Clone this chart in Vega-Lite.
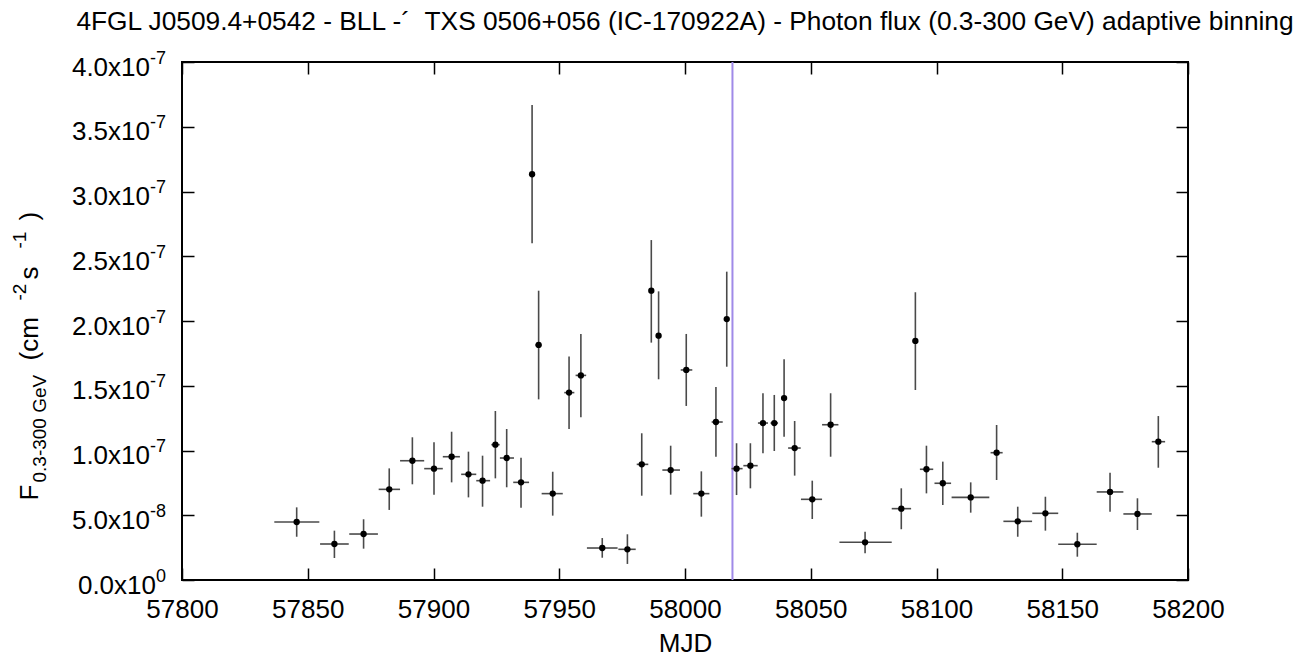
{
  "$schema": "https://vega.github.io/schema/vega-lite/v6.json",
  "width": 1006,
  "height": 518,
  "autosize": {"type": "none"},
  "padding": {"left": 182, "top": 62, "right": 118, "bottom": 78},
  "background": "white",
  "config": {
    "font": "Liberation Sans",
    "view": {"stroke": "black", "strokeWidth": 2},
    "axis": {"domain": false, "grid": false, "labelColor": "black", "titleColor": "black", "tickColor": "black", "tickWidth": 1.5, "labelFont": "Liberation Sans", "titleFont": "Liberation Sans", "titleFontWeight": "normal", "labelFlush": false, "labelOverlap": false, "labelBound": false}
  },
  "title": {"text": "4FGL J0509.4+0542 - BLL -´\u00a0\u00a0TXS 0506+056 (IC-170922A) - Photon flux (0.3-300 GeV) adaptive binning", "fontSize": 26.3, "fontWeight": "normal", "font": "Liberation Sans", "color": "black", "anchor": "middle", "frame": "group", "baseline": "alphabetic", "offset": 18, "dy": 25},
  "datasets": {
    "flux": [
      {"mjd":57845.6,"mjd_lo":57836.7,"mjd_hi":57854.6,"flux":4.48e-8,"flux_lo":3.34e-8,"flux_hi":5.61e-8},
      {"mjd":57860.6,"mjd_lo":57854.9,"mjd_hi":57866.3,"flux":2.78e-8,"flux_lo":1.70e-8,"flux_hi":3.81e-8},
      {"mjd":57872.2,"mjd_lo":57866.5,"mjd_hi":57877.9,"flux":3.55e-8,"flux_lo":2.42e-8,"flux_hi":4.69e-8},
      {"mjd":57882.4,"mjd_lo":57878.2,"mjd_hi":57886.7,"flux":7.00e-8,"flux_lo":5.41e-8,"flux_hi":8.62e-8},
      {"mjd":57891.6,"mjd_lo":57886.7,"mjd_hi":57896.3,"flux":9.21e-8,"flux_lo":7.39e-8,"flux_hi":1.102e-7},
      {"mjd":57900.2,"mjd_lo":57896.3,"mjd_hi":57903.7,"flux":8.60e-8,"flux_lo":6.59e-8,"flux_hi":1.063e-7},
      {"mjd":57907.2,"mjd_lo":57903.7,"mjd_hi":57910.5,"flux":9.52e-8,"flux_lo":7.54e-8,"flux_hi":1.145e-7},
      {"mjd":57913.9,"mjd_lo":57911.0,"mjd_hi":57917.0,"flux":8.16e-8,"flux_lo":6.38e-8,"flux_hi":9.91e-8},
      {"mjd":57919.5,"mjd_lo":57917.0,"mjd_hi":57922.5,"flux":7.67e-8,"flux_lo":5.66e-8,"flux_hi":9.60e-8},
      {"mjd":57924.6,"mjd_lo":57923.0,"mjd_hi":57926.3,"flux":1.045e-7,"flux_lo":7.85e-8,"flux_hi":1.305e-7},
      {"mjd":57929.1,"mjd_lo":57926.4,"mjd_hi":57932.0,"flux":9.42e-8,"flux_lo":7.16e-8,"flux_hi":1.166e-7},
      {"mjd":57934.8,"mjd_lo":57931.7,"mjd_hi":57938.0,"flux":7.54e-8,"flux_lo":5.58e-8,"flux_hi":9.44e-8},
      {"mjd":57939.2,"mjd_lo":57938.5,"mjd_hi":57940.0,"flux":3.133e-7,"flux_lo":2.600e-7,"flux_hi":3.668e-7},
      {"mjd":57941.8,"mjd_lo":57940.5,"mjd_hi":57943.0,"flux":1.815e-7,"flux_lo":1.395e-7,"flux_hi":2.234e-7},
      {"mjd":57947.4,"mjd_lo":57943.0,"mjd_hi":57951.4,"flux":6.67e-8,"flux_lo":4.97e-8,"flux_hi":8.36e-8},
      {"mjd":57953.9,"mjd_lo":57952.0,"mjd_hi":57956.0,"flux":1.447e-7,"flux_lo":1.166e-7,"flux_hi":1.725e-7},
      {"mjd":57958.6,"mjd_lo":57956.5,"mjd_hi":57960.7,"flux":1.580e-7,"flux_lo":1.256e-7,"flux_hi":1.900e-7},
      {"mjd":57967.1,"mjd_lo":57961.0,"mjd_hi":57973.2,"flux":2.47e-8,"flux_lo":1.72e-8,"flux_hi":3.24e-8},
      {"mjd":57977.1,"mjd_lo":57973.5,"mjd_hi":57980.4,"flux":2.37e-8,"flux_lo":1.24e-8,"flux_hi":3.53e-8},
      {"mjd":57982.8,"mjd_lo":57980.8,"mjd_hi":57985.4,"flux":8.93e-8,"flux_lo":6.51e-8,"flux_hi":1.133e-7},
      {"mjd":57986.6,"mjd_lo":57985.8,"mjd_hi":57987.4,"flux":2.234e-7,"flux_lo":1.833e-7,"flux_hi":2.625e-7},
      {"mjd":57989.5,"mjd_lo":57988.5,"mjd_hi":57990.5,"flux":1.887e-7,"flux_lo":1.550e-7,"flux_hi":2.229e-7},
      {"mjd":57994.3,"mjd_lo":57991.0,"mjd_hi":57998.0,"flux":8.49e-8,"flux_lo":6.59e-8,"flux_hi":1.037e-7},
      {"mjd":58000.5,"mjd_lo":57998.3,"mjd_hi":58002.9,"flux":1.622e-7,"flux_lo":1.344e-7,"flux_hi":1.900e-7},
      {"mjd":58006.5,"mjd_lo":58003.3,"mjd_hi":58009.7,"flux":6.67e-8,"flux_lo":4.89e-8,"flux_hi":8.39e-8},
      {"mjd":58012.3,"mjd_lo":58010.6,"mjd_hi":58015.0,"flux":1.220e-7,"flux_lo":9.52e-8,"flux_hi":1.490e-7},
      {"mjd":58016.6,"mjd_lo":58016.0,"mjd_hi":58017.4,"flux":2.015e-7,"flux_lo":1.647e-7,"flux_hi":2.381e-7},
      {"mjd":58020.5,"mjd_lo":58018.5,"mjd_hi":58022.9,"flux":8.60e-8,"flux_lo":6.56e-8,"flux_hi":1.056e-7},
      {"mjd":58026.0,"mjd_lo":58023.2,"mjd_hi":58028.9,"flux":8.83e-8,"flux_lo":7.08e-8,"flux_hi":1.056e-7},
      {"mjd":58031.0,"mjd_lo":58029.0,"mjd_hi":58033.0,"flux":1.212e-7,"flux_lo":9.78e-8,"flux_hi":1.442e-7},
      {"mjd":58035.5,"mjd_lo":58034.0,"mjd_hi":58037.0,"flux":1.212e-7,"flux_lo":9.96e-8,"flux_hi":1.429e-7},
      {"mjd":58039.4,"mjd_lo":58038.7,"mjd_hi":58040.2,"flux":1.405e-7,"flux_lo":1.107e-7,"flux_hi":1.704e-7},
      {"mjd":58043.6,"mjd_lo":58041.0,"mjd_hi":58046.0,"flux":1.019e-7,"flux_lo":8.06e-8,"flux_hi":1.228e-7},
      {"mjd":58050.6,"mjd_lo":58046.1,"mjd_hi":58054.5,"flux":6.23e-8,"flux_lo":4.71e-8,"flux_hi":7.67e-8},
      {"mjd":58057.9,"mjd_lo":58054.5,"mjd_hi":58061.0,"flux":1.199e-7,"flux_lo":9.52e-8,"flux_hi":1.442e-7},
      {"mjd":58071.6,"mjd_lo":58061.4,"mjd_hi":58082.2,"flux":2.91e-8,"flux_lo":2.06e-8,"flux_hi":3.73e-8},
      {"mjd":58086.0,"mjd_lo":58082.2,"mjd_hi":58089.9,"flux":5.51e-8,"flux_lo":3.92e-8,"flux_hi":7.08e-8},
      {"mjd":58091.6,"mjd_lo":58090.5,"mjd_hi":58092.6,"flux":1.846e-7,"flux_lo":1.467e-7,"flux_hi":2.222e-7},
      {"mjd":58096.0,"mjd_lo":58093.4,"mjd_hi":58098.7,"flux":8.55e-8,"flux_lo":6.69e-8,"flux_hi":1.037e-7},
      {"mjd":58102.5,"mjd_lo":58099.2,"mjd_hi":58105.8,"flux":7.47e-8,"flux_lo":5.79e-8,"flux_hi":9.14e-8},
      {"mjd":58113.6,"mjd_lo":58106.0,"mjd_hi":58121.0,"flux":6.38e-8,"flux_lo":5.20e-8,"flux_hi":7.54e-8},
      {"mjd":58123.9,"mjd_lo":58121.5,"mjd_hi":58126.3,"flux":9.83e-8,"flux_lo":7.72e-8,"flux_hi":1.197e-7},
      {"mjd":58132.3,"mjd_lo":58126.6,"mjd_hi":58138.0,"flux":4.53e-8,"flux_lo":3.34e-8,"flux_hi":5.66e-8},
      {"mjd":58143.3,"mjd_lo":58138.1,"mjd_hi":58148.4,"flux":5.15e-8,"flux_lo":3.81e-8,"flux_hi":6.43e-8},
      {"mjd":58156.0,"mjd_lo":58148.4,"mjd_hi":58163.7,"flux":2.76e-8,"flux_lo":1.80e-8,"flux_hi":3.65e-8},
      {"mjd":58169.0,"mjd_lo":58163.7,"mjd_hi":58174.3,"flux":6.80e-8,"flux_lo":5.27e-8,"flux_hi":8.29e-8},
      {"mjd":58179.9,"mjd_lo":58174.3,"mjd_hi":58185.6,"flux":5.10e-8,"flux_lo":3.86e-8,"flux_hi":6.31e-8},
      {"mjd":58188.2,"mjd_lo":58185.6,"mjd_hi":58190.9,"flux":1.068e-7,"flux_lo":8.67e-8,"flux_hi":1.266e-7}
    ],
    "ic": [{"mjd": 58018.87, "ymin": 0, "ymax": 4e-7}]
  },
  "layer": [
    {
      "data": {"name": "ic"},
      "mark": {"type": "rule", "color": "#a08ae8", "strokeWidth": 2},
      "encoding": {
        "x": {"field": "mjd", "type": "quantitative", "scale": {"domain": [57800, 58200], "nice": false, "zero": false},
          "axis": {"orient": "bottom", "values": [57800, 57850, 57900, 57950, 58000, 58050, 58100, 58150, 58200], "labels": false, "ticks": true, "tickSize": -12,
            "title": "-1", "titleFontSize": 19, "titleAngle": -90, "titleAlign": "left", "titleBaseline": "alphabetic", "titleX": -157, "titleY": -332}},
        "y": {"field": "ymin", "type": "quantitative", "scale": {"domain": [0, 4e-7], "nice": false},
          "axis": {"orient": "left", "values": [0, 5e-8, 1e-7, 1.5e-7, 2e-7, 2.5e-7, 3e-7, 3.5e-7, 4e-7], "labels": false, "ticks": true, "tickSize": -12,
            "title": ")", "titleFontSize": 26, "titleAngle": -90, "titleAlign": "left", "titleBaseline": "alphabetic", "titleX": -145, "titleY": 158}},
        "y2": {"field": "ymax"}
      }
    },
    {
      "data": {"name": "flux"},
      "mark": {"type": "rule", "color": "#4a4a4a", "strokeWidth": 1.6},
      "encoding": {
        "x": {"field": "mjd_lo", "type": "quantitative", "scale": {"domain": [57800, 58200], "nice": false, "zero": false},
          "axis": {"orient": "bottom", "values": [57800, 57850, 57900, 57950, 58000, 58050, 58100, 58150, 58200], "format": "d", "ticks": false, "labelFontSize": 26, "labelPadding": 37, "labelBaseline": "alphabetic", "labelAlign": "center",
            "title": "MJD", "titleFontSize": 26, "titleAngle": 0, "titleAlign": "center", "titleBaseline": "alphabetic", "titleX": 503, "titleY": 71}},
        "x2": {"field": "mjd_hi"},
        "y": {"field": "flux", "type": "quantitative", "scale": {"domain": [0, 4e-7], "nice": false},
          "axis": {"orient": "left", "values": [0, 5e-8, 1e-7, 1.5e-7, 2e-7, 2.5e-7, 3e-7, 3.5e-7, 4e-7], "ticks": false,
            "labelExpr": "datum.value == 0 ? '0.0x10' : (datum.value < 7e-8 ? '5.0x10' : format(datum.value * 1e7, '.1f') + 'x10')",
            "labelFontSize": 26, "labelAlign": "right", "labelBaseline": "alphabetic", "labelOffset": 13,
            "labelPadding": {"condition": {"test": "datum.value == 0", "value": 26.5}, "value": 32.5},
            "title": "F", "titleFontSize": 26, "titleAngle": -90, "titleAlign": "left", "titleBaseline": "alphabetic", "titleX": -145, "titleY": 438}}
      }
    },
    {
      "data": {"name": "flux"},
      "mark": {"type": "rule", "color": "#4a4a4a", "strokeWidth": 1.6},
      "encoding": {
        "x": {"field": "mjd", "type": "quantitative", "scale": {"domain": [57800, 58200], "nice": false, "zero": false},
          "axis": {"orient": "top", "values": [57800, 57850, 57900, 57950, 58000, 58050, 58100, 58150, 58200], "labels": false, "ticks": true, "tickSize": -12,
            "title": "-2", "titleFontSize": 19, "titleAngle": -90, "titleAlign": "left", "titleBaseline": "alphabetic", "titleX": -157, "titleY": 238}},
        "y": {"field": "flux_lo", "type": "quantitative", "scale": {"domain": [0, 4e-7], "nice": false},
          "axis": {"orient": "left", "values": [0, 5e-8, 1e-7, 1.5e-7, 2e-7, 2.5e-7, 3e-7, 3.5e-7, 4e-7], "ticks": false,
            "labelExpr": "datum.value == 0 ? '0' : (datum.value < 7e-8 ? '-8' : '-7')",
            "labelFontSize": 18, "labelAlign": "right", "labelBaseline": "alphabetic", "labelOffset": 1, "labelPadding": 16.5,
            "title": "0.3-300 GeV", "titleFontSize": 19, "titleAngle": -90, "titleAlign": "left", "titleBaseline": "alphabetic", "titleX": -137, "titleY": 420}},
        "y2": {"field": "flux_hi"}
      }
    },
    {
      "data": {"name": "flux"},
      "mark": {"type": "circle", "color": "black", "opacity": 1, "size": 40},
      "encoding": {
        "x": {"field": "mjd", "type": "quantitative", "scale": {"domain": [57800, 58200], "nice": false, "zero": false},
          "axis": {"orient": "bottom", "labels": false, "ticks": false,
            "title": "s", "titleFontSize": 26, "titleAngle": -90, "titleAlign": "left", "titleBaseline": "alphabetic", "titleX": -145, "titleY": -301}},
        "y": {"field": "flux", "type": "quantitative", "scale": {"domain": [0, 4e-7], "nice": false},
          "axis": {"orient": "right", "values": [0, 5e-8, 1e-7, 1.5e-7, 2e-7, 2.5e-7, 3e-7, 3.5e-7, 4e-7], "labels": false, "ticks": true, "tickSize": -12,
            "title": "(cm", "titleFontSize": 26, "titleAngle": -90, "titleAlign": "left", "titleBaseline": "alphabetic", "titleX": -1151, "titleY": 298}}
      }
    }
  ],
  "resolve": {"axis": {"x": "independent", "y": "independent"}}
}
